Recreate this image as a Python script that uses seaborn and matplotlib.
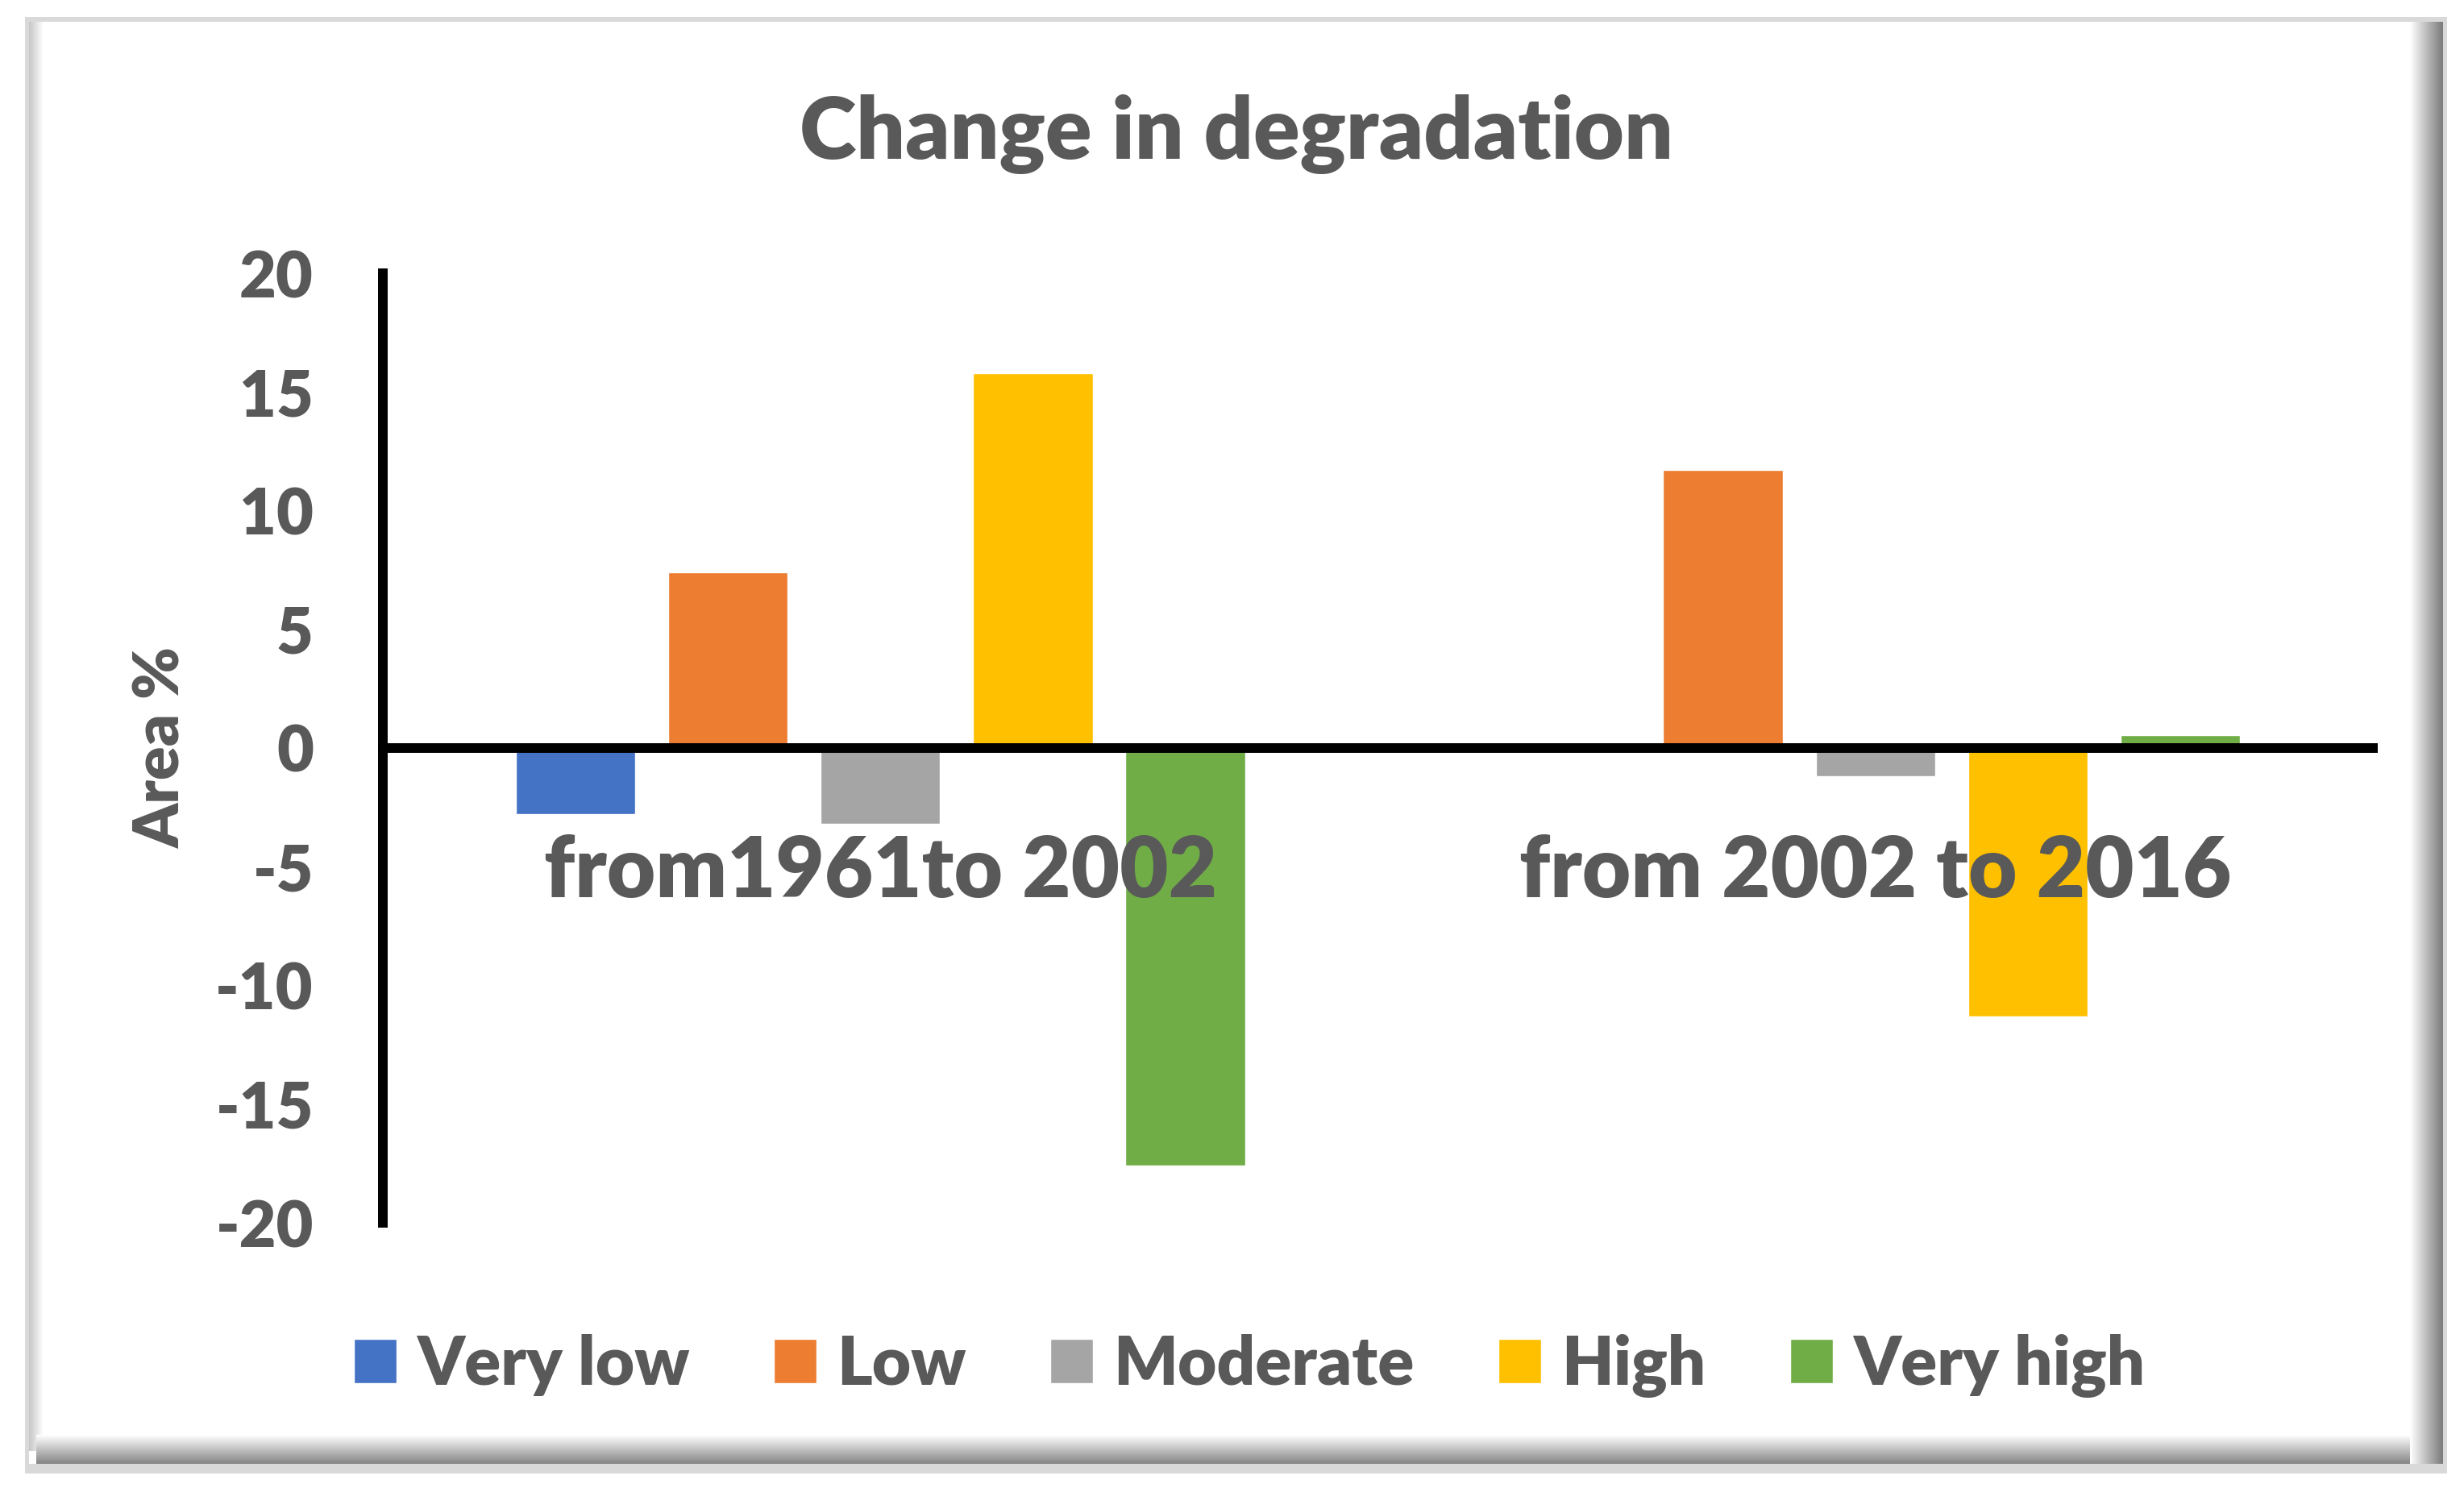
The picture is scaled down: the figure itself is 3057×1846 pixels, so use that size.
import numpy as np
import pandas as pd
import matplotlib
matplotlib.use("Agg")
import matplotlib.pyplot as plt
import seaborn as sns
from matplotlib.patches import Rectangle

# data
periods = ["from1961to 2002", "from 2002 to 2016"]
classes = ["Very low", "Low", "Moderate", "High", "Very high"]
change_1961_2002 = [-2.8, 7.4, -3.2, 15.8, -17.6]
change_2002_2016 = [0.0, 11.7, -1.2, -11.3, 0.55]
y_ticks = [-20, -15, -10, -5, 0, 5, 10, 15, 20]
colors = ["#4472C4", "#ED7D31", "#A5A5A5", "#FFC000", "#70AD47"]

df = pd.DataFrame({
    "period": np.repeat(periods, len(classes)),
    "cls": classes * 2,
    "value": change_1961_2002 + change_2002_2016,
})

sns.set_theme(style="white")
plt.rcParams["font.family"] = ["Lato", "DejaVu Sans"]
plt.rcParams["font.weight"] = "heavy"
plt.rcParams["axes.unicode_minus"] = False
text_col = "#595959"

W, H = 3057, 1846
fig = plt.figure(figsize=(W / 100, H / 100), dpi=100)
fig.patch.set_facecolor("white")

# bevelled frame around the chart, in pixel coordinates
bg = fig.add_axes([0, 0, 1, 1], zorder=-1)
bg.set_autoscale_on(False)
bg.set_xlim(0, W)
bg.set_ylim(H, 0)
bg.axis("off")


def strip(x0, x1, y0, y1, c_from, c_to, horizontal=True):
    t = np.linspace(0, 1, 64)
    cols = np.outer(1 - t, c_from) + np.outer(t, c_to)
    img = cols[np.newaxis, :, :] if horizontal else cols[:, np.newaxis, :]
    bg.imshow(img, extent=(x0, x1, y1, y0), aspect="auto",
              interpolation="bilinear", zorder=3)


bg.add_patch(Rectangle((31, 21), 3005, 1807, facecolor="#d9d9d9", edgecolor="none", zorder=1))
bg.add_patch(Rectangle((36, 27), 2995, 1789, facecolor="white", edgecolor="none", zorder=2))
strip(36, 54, 27, 1800, [0.78, 0.78, 0.78], [1, 1, 1])
strip(45, 3031, 1780, 1816, [1, 1, 1], [0.52, 0.52, 0.52], horizontal=False)
strip(2990, 3031, 27, 1816, [1, 1, 1], [0.48, 0.48, 0.48])

# main axes
ax = fig.add_axes([475 / W, 1 - 1517 / H, 2469 / W, 1178 / H])
sns.barplot(data=df, x="period", y="value", hue="cls", order=periods,
            hue_order=classes, palette=colors, saturation=1, errorbar=None,
            width=0.766, gap=0.215, ax=ax)
handles, labels = ax.get_legend_handles_labels()
ax.get_legend().remove()

ax.patch.set_visible(False)
ax.set_axisbelow(False)
ax.set_xlim(-0.5, 1.5)
ax.set_ylim(-20, 20)
ax.set_yticks(y_ticks)
ax.set_xlabel("")
ax.set_ylabel("Area %", fontsize=56, color=text_col, fontweight="heavy")
ax.yaxis.set_label_coords(-0.0964, 0.5)

for s in ["top", "right"]:
    ax.spines[s].set_visible(False)
for s in ["left", "bottom"]:
    ax.spines[s].set_linewidth(8.6)
    ax.spines[s].set_color("black")
ax.spines["bottom"].set_position(("data", 0))

ax.tick_params(axis="y", length=0, pad=62, labelsize=57, labelcolor=text_col)
ax.tick_params(axis="x", length=0, pad=77, labelsize=75, labelcolor=text_col)

fig.text(1534 / W, 1 - 197 / H, "Change in degradation", ha="center",
         va="baseline", fontsize=77, color=text_col, fontweight="heavy")

fig.legend(handles, labels, loc="center", bbox_to_anchor=(1550 / W, 1 - 1694 / H),
           ncol=5, frameon=False, fontsize=60, labelcolor=text_col,
           handlelength=0.64, handleheight=0.64, handletextpad=0.3,
           columnspacing=1.25)

fig.savefig("out.png", dpi=100)
